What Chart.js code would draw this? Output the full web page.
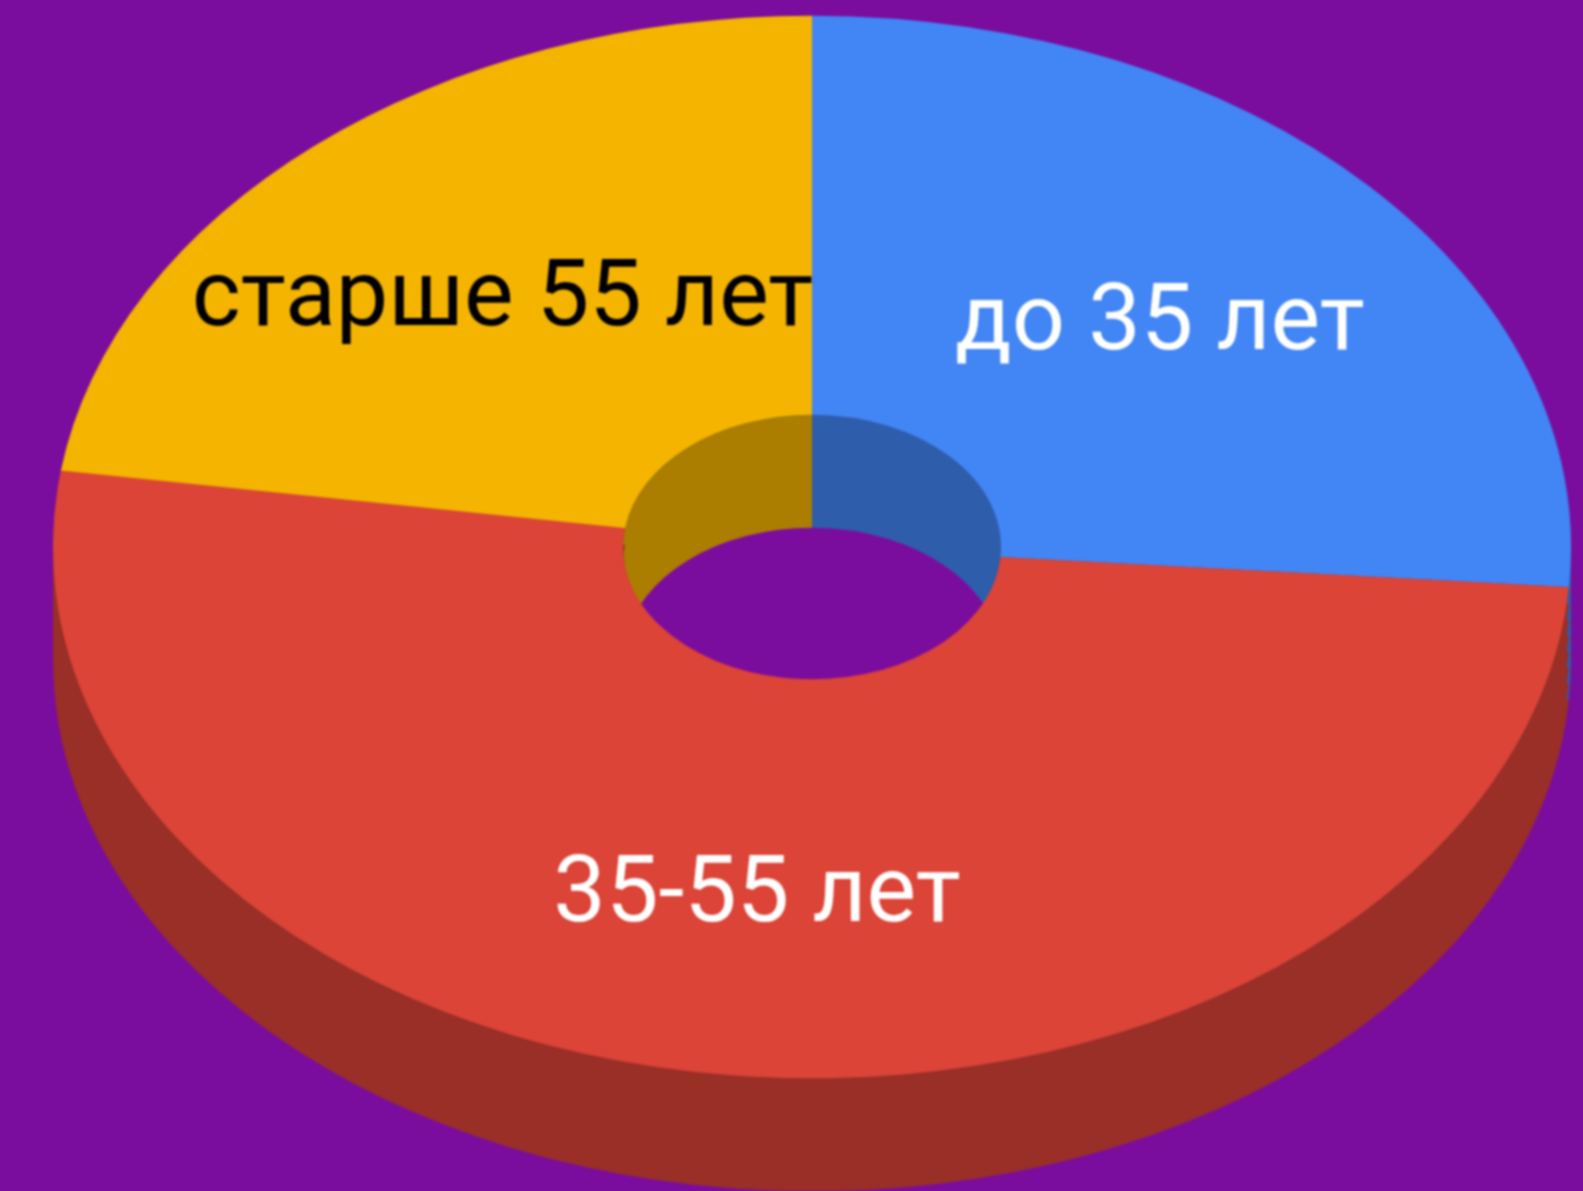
<!DOCTYPE html>
<html><head><meta charset="utf-8">
<style>html,body{margin:0;padding:0;background:#7b0d9e;overflow:hidden}canvas{display:block;filter:blur(0.8px)}#w{width:1583px;height:1191px}</style>
<script src="https://cdn.jsdelivr.net/npm/chart.js@4"></script>
</head><body><div id="w"><canvas id="c" width="1583" height="1191"></canvas></div>
<script>
const categories = ['до 35 лет', '35-55 лет', 'старше 55 лет'];
const shares = [26.2, 51.1, 22.7];
const faceColors = ['#4285F4', '#DB4437', '#F4B400'];
const wallColors = ['#2E5DAB', '#992F27', '#AB7E00'];
const labelColors = ['#FFFFFF', '#FFFFFF', '#000000'];
const labelCentres = [[1160, 326], [757, 898], [502.5, 302]];

const SQUASH = 0.7, DEPTH = 113, STEP = 16, CX = 812, CY = 547, OUTER = 759;

const tilt3d = {
  id: 'tilt3d',
  beforeDatasetsDraw(chart) {
    const ctx = chart.ctx, arcs = chart.getDatasetMeta(0).data;
    const place = (d) => { ctx.translate(CX, CY + d); ctx.scale(1, SQUASH); ctx.translate(-CX, -CY); };
    for (let d = DEPTH; d > 0; d -= STEP) {
      ctx.save(); place(d);
      arcs.forEach((arc, i) => {
        const o = arc.options;
        arc.options = Object.assign(Object.create(o), { backgroundColor: wallColors[i] });
        arc.draw(ctx);
        arc.options = o;
      });
      ctx.restore();
    }
    ctx.save(); place(0);
  },
  afterDatasetsDraw(chart) {
    const ctx = chart.ctx;
    ctx.restore();
    ctx.save();
    ctx.font = '400 93.5px Roboto';
    ctx.textAlign = 'center';
    ctx.textBaseline = 'middle';
    categories.forEach((t, i) => {
      ctx.fillStyle = labelColors[i];
      ctx.fillText(t, labelCentres[i][0], labelCentres[i][1]);
    });
    ctx.restore();
  }
};

new Chart(document.getElementById('c'), {
  type: 'doughnut',
  data: { labels: categories, datasets: [{ data: shares, backgroundColor: faceColors, borderWidth: 0, clip: false }] },
  options: {
    responsive: false, animation: false, cutout: '24.9%', radius: OUTER,
    layout: { padding: { left: 41, bottom: 97 } },
    plugins: { legend: { display: false }, tooltip: { enabled: false } }
  },
  plugins: [tilt3d]
});
</script></body></html>
